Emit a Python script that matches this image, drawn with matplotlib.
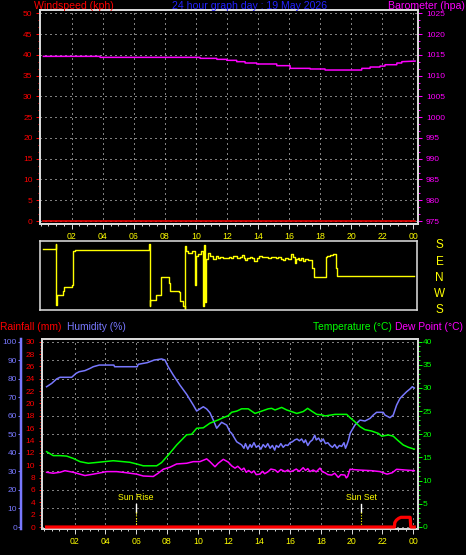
import matplotlib
matplotlib.use("Agg")
import matplotlib.pyplot as plt
from matplotlib.ticker import MultipleLocator, FixedLocator

# ---------------- data ----------------
hour_ticks = [2, 4, 6, 8, 10, 12, 14, 16, 18, 20, 22, 24]
hour_labels = ["02", "04", "06", "08", "10", "12", "14", "16", "18", "20", "22", "00"]

wind_hours = [0.15, 24.1]
windspeed = [0, 0]

baro_hours = [0.18, 3.82, 3.83, 10.26, 10.27, 11.34, 11.35, 11.98, 11.99, 12.62, 12.63,
              13.16, 13.17, 13.91, 13.92, 15.2, 15.21, 16.06, 16.07, 17.35, 17.36, 18.31,
              18.32, 20.67, 20.68, 21.21, 21.22, 21.85, 21.86, 22.17, 22.18, 22.93, 22.94,
              23.25, 23.26, 24.11]
barometer = [1014.64, 1014.64, 1014.40, 1014.40, 1014.16, 1014.16, 1013.92, 1013.92,
             1013.68, 1013.68, 1013.36, 1013.36, 1013.04, 1013.04, 1012.80, 1012.80,
             1012.40, 1012.40, 1011.75, 1011.75, 1011.60, 1011.60, 1011.35, 1011.35,
             1011.75, 1011.75, 1012.07, 1012.07, 1012.30, 1012.30, 1012.63, 1012.63,
             1013.04, 1013.04, 1013.36, 1013.50]

dir_hours = [0.15, 0.97, 1.0, 1.04, 1.42, 1.53, 2.0, 2.11, 2.21,
             7.0, 7.03, 7.09, 7.47, 7.65, 7.8, 8.29, 8.38, 8.93, 9.02, 9.19, 9.3, 9.34,
             9.4, 9.51, 9.79, 9.94, 10.0, 10.15, 10.37, 10.48, 10.54, 10.6, 10.65, 10.7,
             10.8, 10.91, 11.12, 11.34, 11.44, 11.6, 11.75, 11.87, 12.0, 12.15, 12.3,
             12.45, 12.6, 12.7, 12.85, 12.99, 13.1, 13.2, 13.35, 13.5, 13.65, 13.8, 13.95,
             14.12, 14.3, 14.5, 14.7, 14.87, 15.05, 15.2, 15.35, 15.5, 15.63, 15.75, 15.9,
             16.0, 16.16, 16.3, 16.42, 16.5, 16.6, 16.7, 16.8, 16.95, 17.05, 17.24, 17.43,
             17.55, 17.67, 18.4, 18.5, 18.7, 18.9, 19.05, 19.15, 24.1]
wind_dir = [150, 180, -160, -101, -79, -60, -45, 139, 145,
            180, -165, -128, -101, -105, -1, -36, -79, -85, -137, -163, -180, 167,
            139, 130, 141, -45, 112, 125, 141, -163, 176, -140, 20, 99,
            130, 112, 99, 112, 102, 108, 100, 104, 100, 108, 100,
            112, 116, 104, 108, 119, 104, 92, 104, 106, 100, 86, 104,
            112, 106, 108, 104, 106, 108, 104, 106, 98, 92, 100, 104,
            98, 123, 110, 75, 96, 104, 90, 100, 86, 96, 90, 93,
            47, -1, 108, 112, 118, 125, 47, 0, 0]

hum_hours = [0.18, 0.51, 0.83, 1.05, 1.81, 2.09, 2.30, 2.67, 3.0, 3.21, 3.6, 4.55, 4.6,
             6.07, 6.13, 6.72, 7.17, 7.65, 7.87, 8.08, 8.41, 8.84, 9.28, 9.71, 9.93,
             10.36, 10.58, 10.79, 11.01, 11.23, 11.55, 11.88, 12.09, 12.2, 12.53,
             12.85, 13.0, 13.1, 13.25, 13.4, 13.5, 13.65, 13.8, 13.95, 14.1, 14.25, 14.4,
             14.55, 14.7, 14.85, 15.0, 15.1, 15.25, 15.4, 15.55, 15.7, 15.85, 16.0, 16.15,
             16.3, 16.45, 16.6, 16.75, 16.9, 17.0, 17.15, 17.3, 17.45, 17.6, 17.7, 17.85,
             18.0, 18.15, 18.3, 18.45, 18.6, 18.75, 18.9, 19.05, 19.2, 19.35, 19.5, 19.6,
             19.7, 19.8, 19.9, 20.21, 20.54, 20.86, 21.19, 21.4, 21.62, 22.05, 22.16,
             22.49, 22.7, 22.92, 23.14, 23.35, 23.57, 23.79, 23.94, 24.07]
humidity = [75.7, 77.5, 79.9, 80.8, 80.8, 82.9, 83.8, 84.4, 85.6, 86.5, 87.4, 87.4, 86.5,
            86.5, 87.8, 88.7, 90.1, 90.7, 90.1, 86.5, 82.0, 76.6, 71.6, 65.8, 62.6,
            64.9, 63.7, 61.7, 57.7, 53.3, 56.5, 55.0, 51.4, 50.6, 46.0,
            44.3, 42.5, 45.0, 42.0, 44.5, 43.0, 45.5, 43.0, 44.0, 42.0, 44.5, 43.0,
            45.0, 42.5, 44.0, 41.5, 44.0, 43.0, 45.0, 43.0, 44.3, 44.0, 45.5, 46.0,
            47.0, 47.5, 46.5, 47.5, 45.5, 47.0, 44.0, 46.0, 47.0, 49.5, 47.0, 48.0,
            46.0, 47.5, 45.0, 45.5, 44.0, 43.0, 44.5, 42.5, 44.0, 43.5, 45.5, 42.5,
            44.5, 47.0, 50.6, 55.0, 57.7, 57.2, 58.6, 60.4, 61.9, 61.9, 60.4,
            59.0, 60.4, 65.8, 69.4, 71.2, 73.0, 74.5, 75.7, 75.0]

temp_hours = [0.18, 0.61, 1.05, 1.48, 1.91, 2.35, 2.89, 3.53, 4.51, 5.59, 6.03, 6.46, 7.33,
              7.65, 8.08, 8.63, 9.28, 9.6, 9.93, 10.36, 10.79, 11.33, 11.66, 11.98, 12.2,
              12.53, 12.85, 13.28, 13.72, 14.15, 14.58, 14.8, 15.02, 15.45, 15.78, 16.1,
              16.43, 16.85, 17.14, 17.4, 17.73, 18.05, 18.27, 18.92, 19.68, 19.89, 20.21,
              20.54, 20.86, 21.3, 21.73, 21.95, 22.38, 22.7, 23.03, 23.35, 23.68, 24.07]
temperature = [16.25, 15.4, 15.4, 15.3, 14.8, 14.1, 13.75, 13.96, 14.3, 13.96, 13.6, 13.2,
               13.2, 13.9, 15.5, 17.7, 19.9, 20.0, 21.3, 21.4, 22.4, 23.1, 23.6, 24.0,
               24.75, 25.0, 25.5, 25.5, 24.5, 25.0, 25.5, 25.6, 25.25, 25.8, 25.25, 24.9,
               24.5, 24.9, 25.6, 25.0, 24.3, 24.2, 23.96, 24.3, 24.3, 23.6, 22.7, 21.65,
               21.0, 20.7, 20.2, 19.6, 19.85, 19.6, 18.6, 17.7, 17.2, 16.8]

dew_hours = [0.18, 0.61, 1.05, 1.37, 1.91, 2.67, 3.21, 4.08, 4.73, 5.38, 6.03, 6.46, 7.11,
             7.43, 7.76, 8.19, 8.63, 9.28, 9.71, 10.14, 10.58, 10.79, 11.12, 11.33, 11.66,
             11.98, 12.2, 12.42, 12.6, 12.85, 13.0, 13.15, 13.3, 13.5, 13.65, 13.8, 14.04,
             14.2, 14.35, 14.58, 14.75, 15.02, 15.2, 15.4, 15.67, 15.85, 16.0, 16.2, 16.4,
             16.6, 16.85, 17.0, 17.15, 17.29, 17.5, 17.7, 17.94, 18.1, 18.27, 18.45, 18.7,
             18.9, 19.13, 19.3, 19.56, 19.65, 19.74, 19.89, 20.43, 21.3, 21.84, 22.3,
             22.63, 22.92, 23.46, 24.07]
dew_point = [11.8, 11.6, 11.8, 12.15, 11.8, 11.1, 11.4, 11.95, 11.95, 11.7, 11.4, 11.0, 10.9,
             11.6, 12.45, 12.9, 13.6, 13.75, 14.1, 14.1, 14.7, 14.1, 13.0, 13.75, 14.6,
             14.0, 13.2, 12.7, 13.1, 12.3, 12.7, 11.8, 12.2, 11.7, 12.1, 11.3, 11.4,
             12.0, 11.5, 11.95, 12.5, 12.3, 11.8, 12.4, 11.95, 12.3, 11.9, 12.15, 12.5,
             12.0, 12.8, 12.2, 12.6, 11.95, 12.3, 11.9, 12.7, 11.9, 11.7, 11.3, 11.2,
             11.6, 10.7, 11.3, 11.2, 10.6, 10.9, 12.45, 12.3, 12.15, 11.95, 11.4,
             11.7, 12.45, 12.3, 12.15]

rain_hours = [0.18, 22.78, 22.8, 22.9, 23.05, 23.2, 23.8, 23.84, 24.07]
rainfall = [0, 0, 0.7, 1.1, 1.4, 1.57, 1.57, 0, 0]

sun_events = [6.0, 20.62]
sun_labels = ["Sun Rise", "Sun Set"]

# ---------------- style ----------------
W, H = 466, 555
PT = 0.72  # points per pixel at dpi 100
RED = "#ff0000"
MAG = "#ff00ff"
TITLE_BLUE = "#2323ff"
HUM = "#7878ff"
GRN = "#00ff00"
YEL = "#ffff00"
SPINE = "#d8d8d8"
DOTS = (0, (1, 4))

plt.rcParams["font.family"] = ["Liberation Sans", "DejaVu Sans"]

fig = plt.figure(figsize=(W / 100, H / 100), dpi=100, facecolor="black")


def rect(l, t, r, b):
    return [l / W, 1 - b / H, (r - l) / W, (b - t) / H]


def ftext(x, y, s, **kw):
    fig.text(x / W, 1 - y / H, s, **kw)


def xaxis_style(ax):
    ax.xaxis.set_major_locator(FixedLocator(hour_ticks))
    ax.set_xticklabels(hour_labels)
    ax.xaxis.set_minor_locator(MultipleLocator(0.5))
    ax.tick_params(axis="x", which="major", color=SPINE, length=5 * PT, width=1 * PT,
                   labelcolor=YEL, labelsize=6.3, pad=2.2)
    ax.tick_params(axis="x", which="minor", color=SPINE, length=2.5 * PT, width=1 * PT)


# ---------------- top panel: windspeed / barometer ----------------
ax1 = fig.add_axes(rect(40, 10, 417.7, 224))
ax1.set_facecolor("black")
ax1.set_xlim(-0.04, 24.28)
ax1.set_ylim(-0.72, 50.8)
xaxis_style(ax1)
ax1.set_yticks(range(0, 51, 5))
ax1.yaxis.set_minor_locator(MultipleLocator(5 / 3))
ax1.tick_params(axis="y", which="major", colors=RED, length=4 * PT, width=1 * PT,
                labelsize=6, pad=2.5)
ax1.tick_params(axis="y", which="minor", colors=RED, length=2 * PT, width=1 * PT)
ax1.grid(True, which="major", color="white", linestyle=DOTS, linewidth=PT)
for s in ax1.spines.values():
    s.set_color(SPINE)
    s.set_linewidth(2 * PT)
ax1.plot(wind_hours, windspeed, color=RED, lw=1.1, zorder=3)

ax1b = ax1.twinx()
ax1b.set_ylim(974.28, 1025.8)
ax1b.set_yticks(range(975, 1026, 5))
ax1b.yaxis.set_minor_locator(MultipleLocator(5 / 3))
ax1b.tick_params(axis="y", which="major", colors=MAG, length=4 * PT, width=1 * PT,
                 labelsize=6, pad=3)
ax1b.tick_params(axis="y", which="minor", colors=MAG, length=2 * PT, width=1 * PT)
for s in ax1b.spines.values():
    s.set_color(SPINE)
    s.set_linewidth(2 * PT)
ax1b.plot(baro_hours, barometer, color=MAG, lw=1.1)

ftext(34, 6, "Windspeed (kph)", color=RED, fontsize=7.6, ha="left", va="center")
ftext(250, 6, "24 hour graph day : 19 May 2026", color=TITLE_BLUE, fontsize=7.6,
      ha="center", va="center")
ftext(465, 6, "Barometer (hpa)", color=MAG, fontsize=7.6, ha="right", va="center")

# ---------------- wind direction panel ----------------
ax2 = fig.add_axes(rect(40, 241, 416.7, 309.5))
ax2.set_facecolor("black")
ax2.set_xlim(-0.04, 24.28)
ax2.set_ylim(-182.8, 196.6)
ax2.set_xticks([])
ax2.yaxis.tick_right()
ax2.set_yticks([180, 90, 0, -90, -180])
ax2.set_yticklabels(["S", "E", "N", "W", "S"])
ax2.tick_params(axis="y", length=0, pad=23 * PT, labelsize=8.5, labelcolor=YEL)
for lab in ax2.get_yticklabels():
    lab.set_horizontalalignment("center")
for s in ax2.spines.values():
    s.set_color(SPINE)
    s.set_linewidth(1.6 * PT)
ax2.plot(dir_hours, wind_dir, color=YEL, lw=1.0, drawstyle="steps-post")

# ---------------- bottom panel: humidity / rain / temperature ----------------
axh = fig.add_axes(rect(42.3, 339.3, 417.7, 529.3))
axh.set_facecolor("black")
axh.set_xlim(-0.1, 24.29)
axh.set_ylim(-1.24, 101.3)
xaxis_style(axh)
axh.set_yticks(range(0, 101, 10))
axh.tick_params(axis="y", colors=HUM, length=3 * PT, width=1 * PT, labelsize=6, pad=1)
axh.grid(True, which="major", color="white", linestyle=DOTS, linewidth=PT)
for s in axh.spines.values():
    s.set_color(SPINE)
    s.set_linewidth(2 * PT)
axh.spines["left"].set_position(("outward", 21 * PT))
axh.spines["left"].set_color(HUM)
axh.spines["left"].set_linewidth(2.5 * PT)
axh.plot(hum_hours, humidity, color=HUM, lw=1.1)

for t, lab in zip(sun_events, sun_labels):
    axh.plot([t, t], [12.4, 8.3], color="white", lw=1.0)
    axh.plot([t, t], [8.3, -1.2], color=YEL, lw=0.8, linestyle=(0, (1, 1.5)))
    axh.text(t, 15.8, lab, color=YEL, fontsize=6.3, ha="center", va="center")

axr = axh.twinx()
axr.yaxis.tick_left()
axr.yaxis.set_label_position("left")
axr.set_ylim(-0.37, 30.39)
axr.set_yticks(range(0, 31, 2))
axr.yaxis.set_minor_locator(MultipleLocator(0.5))
axr.tick_params(axis="y", which="major", colors=RED, length=3 * PT, width=1 * PT,
                labelsize=6, pad=3)
axr.tick_params(axis="y", which="minor", colors=RED, length=2 * PT, width=1 * PT)
for name, s in axr.spines.items():
    s.set_visible(name == "left")
axr.spines["left"].set_color(SPINE)
axr.spines["left"].set_linewidth(2 * PT)
axr.plot(rain_hours, rainfall, color=RED, lw=2.3)

axt = axh.twinx()
axt.set_ylim(-0.5, 40.5)
axt.set_yticks(range(0, 41, 5))
axt.yaxis.set_minor_locator(MultipleLocator(1))
axt.tick_params(axis="y", which="major", colors=GRN, length=3.5 * PT, width=1 * PT,
                labelsize=6, pad=1)
axt.tick_params(axis="y", which="minor", colors=GRN, length=2 * PT, width=1 * PT)
for name, s in axt.spines.items():
    s.set_visible(name == "right")
axt.spines["right"].set_color(SPINE)
axt.spines["right"].set_linewidth(2 * PT)
axt.plot(temp_hours, temperature, color=GRN, lw=1.1)
axt.plot(dew_hours, dew_point, color=MAG, lw=1.1)

ftext(0, 327, "Rainfall (mm)", color=RED, fontsize=7.4, ha="left", va="center")
ftext(67, 327, "Humidity (%)", color=HUM, fontsize=7.4, ha="left", va="center")
ftext(392, 327, "Temperature (°C)", color=GRN, fontsize=7.4, ha="right", va="center")
ftext(463, 327, "Dew Point (°C)", color=MAG, fontsize=7.4, ha="right", va="center")

fig.savefig("out.png", dpi=100, facecolor="black")
